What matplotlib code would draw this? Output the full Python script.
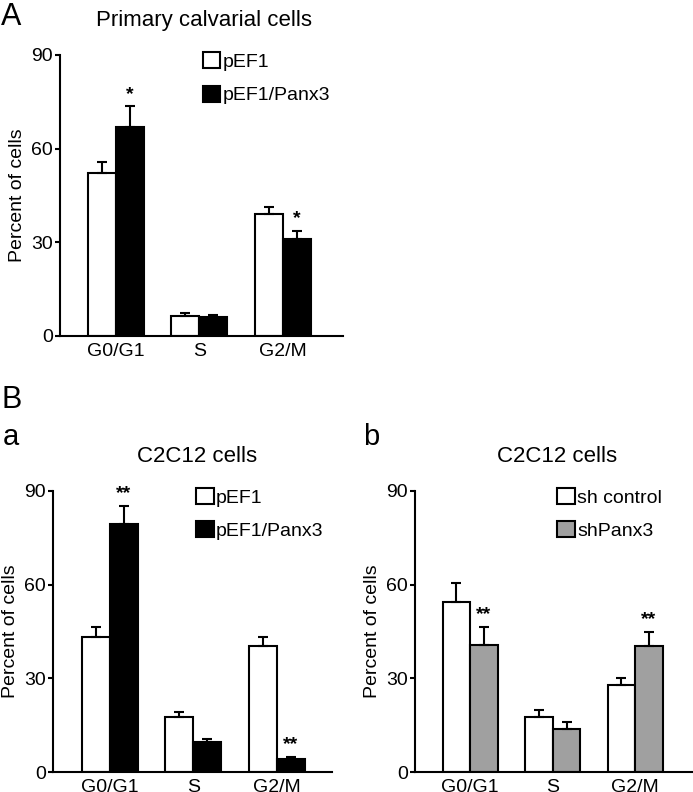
"""Cell-cycle distribution bar charts (percent of cells per phase)."""

import matplotlib

matplotlib.use("Agg")
import matplotlib.pyplot as plt
import numpy as np
from matplotlib.patches import Patch

plt.rcParams["font.family"] = ["Liberation Sans", "DejaVu Sans"]

PHASES = ["G0/G1", "S", "G2/M"]
Y_TICKS = [0, 30, 60, 90]

# Panel A: primary calvarial cells
A_CTRL = [52.1, 6.5, 39.0]
A_CTRL_ERR = [3.6, 0.8, 2.2]
A_TREAT = [66.8, 6.0, 31.2]
A_TREAT_ERR = [6.7, 0.7, 2.3]
A_STARS = ["*", "", "*"]
A_LABELS = ["pEF1", "pEF1/Panx3"]

# Panel Ba: C2C12 overexpression
BA_CTRL = [43.3, 17.8, 40.5]
BA_CTRL_ERR = [3.0, 1.4, 2.8]
BA_TREAT = [79.4, 9.7, 4.2]
BA_TREAT_ERR = [5.7, 0.8, 0.7]
BA_STARS = ["**", "", "**"]
BA_LABELS = ["pEF1", "pEF1/Panx3"]

# Panel Bb: C2C12 knockdown
BB_CTRL = [54.5, 17.8, 27.8]
BB_CTRL_ERR = [6.1, 2.1, 2.2]
BB_TREAT = [40.6, 13.8, 40.4]
BB_TREAT_ERR = [5.9, 2.4, 4.5]
BB_STARS = ["**", "", "**"]
BB_LABELS = ["sh control", "shPanx3"]

BAR_W = 0.335
EDGE_LW = 1.5
FS = 14


def draw_panel(ax, ctrl, ctrl_err, treat, treat_err, stars, labels, treat_color,
               title, title_x, xlim, legend_x):
    x = np.arange(len(PHASES))
    err_kw = dict(elinewidth=EDGE_LW, capthick=EDGE_LW, capsize=3.6, ecolor="black")
    ax.bar(x - BAR_W / 2, ctrl, BAR_W, color="white", edgecolor="black",
           linewidth=EDGE_LW, yerr=[np.zeros(len(ctrl)), ctrl_err], error_kw=err_kw,
           zorder=2)
    ax.bar(x + BAR_W / 2, treat, BAR_W, color=treat_color, edgecolor="black",
           linewidth=EDGE_LW, yerr=[np.zeros(len(treat)), treat_err], error_kw=err_kw,
           zorder=2)
    for xi, v, e, s in zip(x, treat, treat_err, stars):
        if s:
            ax.text(xi + BAR_W / 2, v + e + 2.5, s, ha="center", va="baseline",
                    fontsize=FS, fontweight="bold")

    ax.set_xlim(*xlim)
    ax.set_ylim(0, 90)
    ax.set_yticks(Y_TICKS)
    ax.set_xticks(x)
    ax.set_xticklabels(PHASES)
    ax.tick_params(axis="x", length=0, pad=5, labelsize=FS)
    ax.tick_params(axis="y", length=3.6, width=EDGE_LW, pad=1.5, labelsize=FS)
    ax.set_ylabel("Percent of cells", fontsize=FS, labelpad=4)
    for side in ("top", "right"):
        ax.spines[side].set_visible(False)
    for side in ("left", "bottom"):
        ax.spines[side].set_linewidth(EDGE_LW)
    ax.set_title(title, fontsize=16, pad=21, x=title_x)

    handles = [
        Patch(facecolor="white", edgecolor="black", linewidth=EDGE_LW),
        Patch(facecolor=treat_color, edgecolor="black", linewidth=EDGE_LW),
    ]
    ax.legend(handles, labels, loc="upper left", bbox_to_anchor=(legend_x, 1.01),
              frameon=False, fontsize=FS, handlelength=0.9, handleheight=0.9,
              handletextpad=0.12, labelspacing=0.75, borderpad=0, borderaxespad=0)


fig = plt.figure(figsize=(6.93, 7.92), dpi=100)

ax_a = fig.add_axes([0.0866, 0.5758, 0.4084, 0.3548])
ax_ba = fig.add_axes([0.0765, 0.0249, 0.4026, 0.3555])
ax_bb = fig.add_axes([0.5988, 0.0249, 0.4000, 0.3555])

draw_panel(ax_a, A_CTRL, A_CTRL_ERR, A_TREAT, A_TREAT_ERR, A_STARS, A_LABELS,
           "black", "Primary calvarial cells", 0.51, (-0.67, 2.72), 0.505)
draw_panel(ax_ba, BA_CTRL, BA_CTRL_ERR, BA_TREAT, BA_TREAT_ERR, BA_STARS, BA_LABELS,
           "black", "C2C12 cells", 0.516, (-0.68, 2.66), 0.513)
draw_panel(ax_bb, BB_CTRL, BB_CTRL_ERR, BB_TREAT, BB_TREAT_ERR, BB_STARS, BB_LABELS,
           "#a0a0a0", "C2C12 cells", 0.514, (-0.67, 2.69), 0.514)

fig.text(0.002, 1 - 25 / 792, "A", fontsize=22)
fig.text(0.002, 1 - 408 / 792, "B", fontsize=22)
fig.text(0.004, 1 - 445 / 792, "a", fontsize=21)
fig.text(363 / 693, 1 - 445 / 792, "b", fontsize=21)

fig.savefig("out.png", dpi=100)
